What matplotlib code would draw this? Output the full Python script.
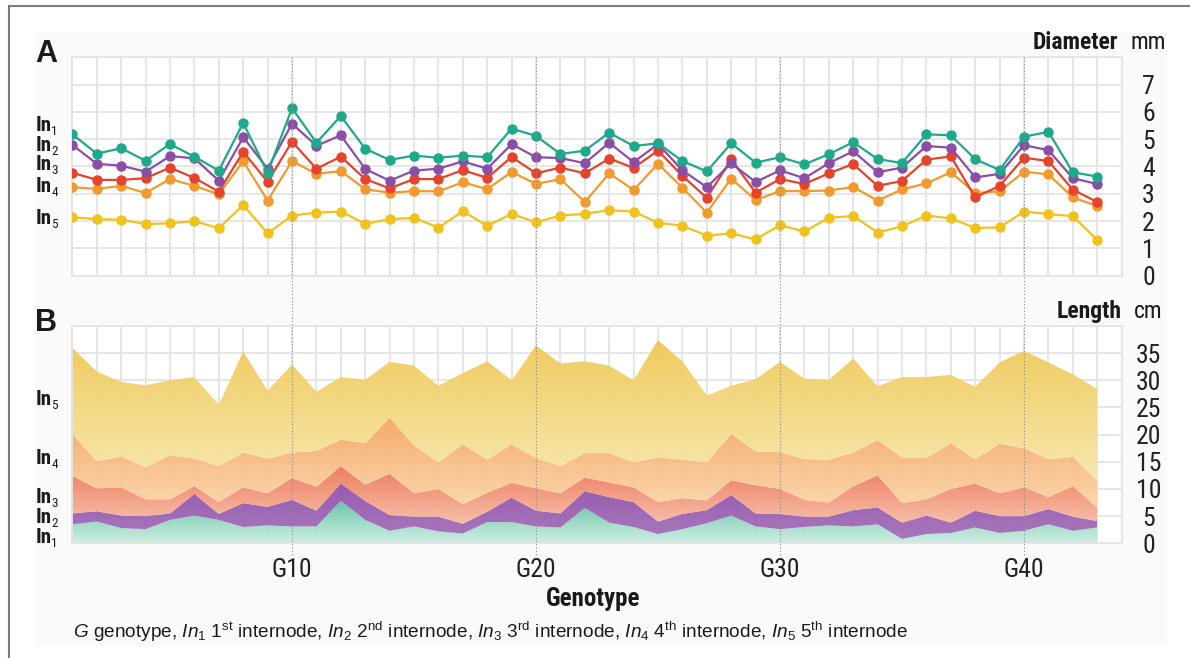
import os
import numpy as np
import matplotlib
matplotlib.use("Agg")
import matplotlib.pyplot as plt
from matplotlib import font_manager as fm
from matplotlib import transforms
from matplotlib.colors import LinearSegmentedColormap
from matplotlib.patches import Rectangle
from matplotlib.lines import Line2D

# ---------------------------------------------------------------- data
genotypes = np.arange(1, 44)
xtick_pos = [10, 20, 30, 40]
xtick_labels = ["G10", "G20", "G30", "G40"]

# internode diameter, mm
dia_in1 = [5.18, 4.47, 4.67, 4.21, 4.82, 4.36, 3.85, 5.60, 3.77, 6.14, 4.87, 5.85, 4.65, 4.24,
           4.40, 4.32, 4.40, 4.34, 5.39, 5.12, 4.46, 4.58, 5.24, 4.75, 4.85, 4.20, 3.82, 4.85, 4.14,
           4.34, 4.08, 4.45, 4.89, 4.27, 4.13, 5.18, 5.14, 4.27, 3.87, 5.09, 5.27, 3.79, 3.63]
dia_in2 = [4.79, 4.10, 4.03, 3.81, 4.38, 4.30, 3.48, 5.07, 3.92, 5.57, 4.76, 5.14, 3.91, 3.48,
           3.85, 3.92, 4.19, 3.92, 4.82, 4.34, 4.31, 4.12, 4.87, 4.16, 4.82, 3.86, 3.24, 4.12, 3.43,
           3.86, 3.57, 4.12, 4.56, 3.79, 3.96, 4.75, 4.69, 3.60, 3.73, 4.78, 4.60, 3.57, 3.36]
dia_in3 = [3.77, 3.51, 3.51, 3.57, 3.96, 3.58, 3.08, 4.54, 3.44, 4.91, 3.92, 4.36, 3.54, 3.20,
           3.54, 3.54, 3.87, 3.58, 4.35, 3.75, 3.96, 3.75, 4.29, 3.95, 4.58, 3.66, 2.85, 4.26, 3.04,
           3.54, 3.36, 3.75, 4.09, 3.29, 3.47, 4.25, 4.37, 2.87, 3.29, 4.32, 4.20, 3.15, 2.70]
dia_in4 = [3.24, 3.18, 3.29, 3.03, 3.54, 3.29, 2.98, 4.19, 2.75, 4.20, 3.73, 3.83, 3.17, 3.04,
           3.10, 3.09, 3.42, 3.17, 3.80, 3.36, 3.54, 2.70, 3.75, 3.14, 4.10, 3.22, 2.31, 3.56, 2.77,
           3.10, 3.10, 3.12, 3.25, 2.75, 3.16, 3.38, 3.79, 3.03, 3.09, 3.81, 3.71, 2.87, 2.55]
dia_in5 = [2.14, 2.07, 2.05, 1.89, 1.92, 2.00, 1.74, 2.59, 1.55, 2.20, 2.31, 2.35, 1.90, 2.07,
           2.12, 1.76, 2.36, 1.83, 2.26, 1.96, 2.20, 2.27, 2.40, 2.35, 1.94, 1.83, 1.47, 1.55, 1.33,
           1.85, 1.62, 2.12, 2.19, 1.58, 1.81, 2.20, 2.10, 1.75, 1.77, 2.35, 2.26, 2.18, 1.31]

# internode length, cm (stacked from In1 upward)
len_in1 = [3.5, 4.0, 2.8, 2.6, 4.3, 5.1, 4.3, 3.0, 3.3, 3.1, 3.1, 7.8, 4.3, 2.3,
           3.1, 2.2, 1.8, 3.9, 3.9, 3.1, 2.9, 6.5, 3.8, 3.0, 1.7, 2.6, 3.7, 5.1, 3.1,
           2.6, 3.0, 3.3, 3.1, 3.5, 0.8, 1.7, 1.9, 2.9, 1.9, 2.3, 3.5, 2.3, 2.9]
len_in2 = [2.0, 1.9, 2.3, 2.4, 1.2, 4.0, 1.1, 4.4, 3.4, 4.9, 2.9, 3.2, 3.5, 2.9,
           1.8, 2.7, 1.8, 1.9, 4.5, 2.9, 2.6, 3.1, 4.7, 4.6, 2.3, 2.8, 2.4, 3.8, 2.4,
           2.8, 1.9, 1.6, 3.0, 3.1, 3.0, 3.4, 1.9, 3.1, 3.1, 2.7, 2.8, 2.6, 1.2]
len_in3 = [6.9, 4.2, 5.2, 3.1, 2.6, 1.4, 2.2, 2.9, 2.5, 4.0, 4.4, 3.2, 3.0, 7.6,
           4.3, 5.1, 3.6, 3.5, 2.7, 4.1, 3.7, 2.5, 2.7, 2.7, 3.6, 2.9, 1.8, 2.7, 5.2,
           4.6, 3.1, 2.6, 4.4, 5.9, 3.6, 3.0, 6.2, 5.0, 4.2, 5.3, 2.2, 5.6, 2.5]
len_in4 = [7.7, 5.0, 5.7, 5.9, 8.1, 5.1, 6.6, 6.4, 6.4, 4.7, 6.6, 4.9, 7.6, 10.3,
           8.8, 4.9, 11.0, 6.1, 7.1, 5.6, 5.0, 4.5, 5.4, 4.6, 8.2, 7.1, 7.0, 8.5, 6.2,
           6.8, 7.5, 7.9, 6.2, 6.5, 8.4, 7.6, 8.4, 4.5, 9.1, 7.2, 7.0, 5.4, 4.9]
len_in5 = [15.9, 16.5, 13.7, 15.1, 13.8, 15.0, 11.3, 18.6, 12.5, 16.2, 10.9, 11.5, 11.7, 10.3,
           14.7, 14.1, 13.1, 18.1, 11.8, 20.7, 18.9, 16.9, 16.1, 15.1, 21.6, 18.1, 12.3, 8.9, 13.3,
           16.6, 14.8, 14.7, 17.3, 9.9, 14.8, 14.9, 12.6, 13.3, 15.0, 17.9, 17.8, 15.2, 16.9]

internode_names = ["1", "2", "3", "4", "5"]
line_colors = ["#1fa98b", "#8b4ea6", "#e6432c", "#f29a2e", "#f0c21e"]
# (bottom colour, top colour) of each stacked band
band_colors = [("#cdeee2", "#5fc2a3"),
               ("#a26fb8", "#9050aa"),
               ("#f7bba3", "#ee7656"),
               ("#fcd5a8", "#f4a562"),
               ("#f8e7ab", "#efc854")]

# ---------------------------------------------------------------- fonts
SANS = "Liberation Sans"
plt.rcParams["font.family"] = [SANS, "DejaVu Sans"]
plt.rcParams["mathtext.fontset"] = "custom"
plt.rcParams["mathtext.rm"] = SANS
plt.rcParams["mathtext.it"] = SANS + ":italic"


def _find_font(candidates):
    files = {}
    for f in fm.fontManager.ttflist:
        key = os.path.basename(f.fname).lower().replace("-", "").replace("_", "")
        files.setdefault(key, f.fname)
    for c in candidates:
        if c in files:
            return files[c]
    return None


_narrow_reg = _find_font(["liberationsansnarrowregular.ttf", "arialnarrow.ttf",
                          "robotocondensedregular.ttf", "notosanscondensed.ttf",
                          "notosanscondensedregular.ttf", "opensanscondensedregular.ttf",
                          "dejavusanscondensed.ttf"])
_narrow_bold = _find_font(["liberationsansnarrowbold.ttf", "arialnarrowbold.ttf",
                           "robotocondensedbold.ttf", "notosanscondensedbold.ttf",
                           "opensanscondensedbold.ttf", "dejavusanscondensedbold.ttf"])


def narrow(size, bold=False):
    path = _narrow_bold if bold else _narrow_reg
    if path:
        return fm.FontProperties(fname=path, size=size)
    return fm.FontProperties(family=SANS, size=size,
                             weight="bold" if bold else "normal", stretch="condensed")


# ---------------------------------------------------------------- figure
W, H = 1190, 658
fig = plt.figure(figsize=(W / 100, H / 100), dpi=100)
fig.patch.set_facecolor("white")


def fx(px):
    return px / W


def fy(py):
    return 1 - py / H


# soft panel background and frame
fig.add_artist(Rectangle((fx(35), fy(646)), (1167 - 35) / W, (646 - 32) / H,
                         transform=fig.transFigure, facecolor="#fafafa",
                         edgecolor="none", zorder=-10))
fig.add_artist(Line2D([fx(9), 1], [fy(6), fy(6)], transform=fig.transFigure,
                      color="#7d7d7d", lw=1.5))
fig.add_artist(Line2D([fx(9), fx(9)], [fy(6), 0], transform=fig.transFigure,
                      color="#7d7d7d", lw=1.5))

AX_L, AX_R = 72.4, 1121.6
axA = fig.add_axes([fx(AX_L), fy(275.7), (AX_R - AX_L) / W, (275.7 - 57.3) / H])
axB = fig.add_axes([fx(AX_L), fy(543.3), (AX_R - AX_L) / W, (543.3 - 326.0) / H])

GRID = "#e4e4e4"
for ax in (axA, axB):
    ax.set_facecolor("white")
    ax.set_xticks(range(1, 45), minor=True)
    ax.set_xticks(xtick_pos)
    ax.grid(True, which="both", axis="x", color=GRID, lw=1.3)
    ax.grid(True, which="major", axis="y", color=GRID, lw=1.3)
    ax.set_axisbelow(True)
    for s in ax.spines.values():
        s.set_color(GRID)
        s.set_linewidth(1.3)
    ax.tick_params(which="both", length=0)
    ax.yaxis.tick_right()
    ax.tick_params(axis="y", pad=19.4)

# ---- panel A: diameters
for vals, col in reversed(list(zip([dia_in1, dia_in2, dia_in3, dia_in4, dia_in5], line_colors))):
    axA.plot(genotypes, vals, color=col, lw=1.6, marker="o", ms=6.5,
             mfc=col, mec=col, zorder=3)
axA.set_xlim(1, 44)
axA.set_ylim(0, 8)
axA.set_yticks(range(0, 8))
axA.set_xticklabels([])

# ---- panel B: stacked lengths with vertical colour gradients
lengths = np.array([len_in1, len_in2, len_in3, len_in4, len_in5])
tops = np.cumsum(lengths, axis=0)
bottoms = np.vstack([np.zeros(len(genotypes)), tops[:-1]])
grad = np.linspace(0, 1, 256).reshape(-1, 1)
for i, (lo_c, hi_c) in enumerate(band_colors):
    lower, upper = bottoms[i], tops[i]
    poly = axB.fill_between(genotypes, lower, upper, facecolor="none",
                            edgecolor="none", zorder=2)
    cmap = LinearSegmentedColormap.from_list(f"band{i}", [lo_c, hi_c])
    im = axB.imshow(grad, cmap=cmap, aspect="auto", origin="lower",
                    extent=[genotypes[0], genotypes[-1], lower.min(), upper.max()],
                    interpolation="bilinear", alpha=0.94, zorder=2)
    im.set_clip_path(poly.get_paths()[0], transform=axB.transData)
axB.set_xlim(1, 44)
axB.set_ylim(0, 40)
axB.set_yticks(range(0, 40, 5))
axB.set_xticklabels(xtick_labels)
axB.tick_params(axis="x", pad=19)

for ax in (axA, axB):
    for lab in ax.get_yticklabels():
        lab.set_horizontalalignment("center")
        lab.set_fontproperties(narrow(18.5))
        lab.set_color("#222222")
    for lab in ax.get_xticklabels():
        lab.set_verticalalignment("center")
        lab.set_fontproperties(narrow(18.5))
        lab.set_color("#222222")

# dotted guides through both panels at every tenth genotype
guide_tr = transforms.blended_transform_factory(axA.transData, fig.transFigure)
for g in xtick_pos:
    fig.add_artist(Line2D([g, g], [fy(57.3), fy(556)], transform=guide_tr,
                          color="#8e8e8e", lw=0.8, ls=(0, (1, 2)), zorder=5))

# ---------------------------------------------------------------- labels
fig.text(fx(35), fy(62), "A", fontsize=22, fontweight="bold", va="baseline", color="#1a1a1a")
fig.text(fx(35), fy(330.7), "B", fontsize=22, fontweight="bold", va="baseline", color="#1a1a1a")

renderer = fig.canvas.get_renderer()
in_baselines_A = [131, 150.7, 170, 191.7, 224]
in_baselines_B = [543.3, 523.3, 503.3, 464, 405]
for name, ya, yb in zip(internode_names, in_baselines_A, in_baselines_B):
    for yb_px in (ya, yb):
        t = fig.text(fx(36), fy(yb_px), "In", fontproperties=narrow(15, bold=True),
                     va="baseline", color="#1a1a1a")
        bb = t.get_window_extent(renderer=renderer)
        fig.text((bb.x1 - 0.5) / W, fy(yb_px + 4), name, fontproperties=narrow(9.5),
                 va="baseline", color="#1a1a1a")

fig.text(fx(1118), fy(49), "Diameter", fontproperties=narrow(17, bold=True),
         ha="right", va="baseline", color="#1a1a1a")
fig.text(fx(1131), fy(49), "mm", fontproperties=narrow(17), ha="left", va="baseline",
         color="#1a1a1a")
fig.text(fx(1122), fy(318.3), "Length", fontproperties=narrow(17, bold=True),
         ha="right", va="baseline", color="#1a1a1a")
fig.text(fx(1134), fy(318.3), "cm", fontproperties=narrow(17), ha="left", va="baseline",
         color="#1a1a1a")

fig.text(fx(593), fy(599), "Genotype", fontproperties=narrow(18, bold=True),
         ha="center", va="center", color="#1a1a1a")

caption = (r"$\mathit{G}$ genotype, $\mathit{In}_{\mathit{1}}$ $1^{\mathrm{st}}$ internode, "
           r"$\mathit{In}_{\mathit{2}}$ $2^{\mathrm{nd}}$ internode, "
           r"$\mathit{In}_{\mathit{3}}$ $3^{\mathrm{rd}}$ internode, "
           r"$\mathit{In}_{\mathit{4}}$ $4^{\mathrm{th}}$ internode, "
           r"$\mathit{In}_{\mathit{5}}$ $5^{\mathrm{th}}$ internode")
fig.text(fx(73), fy(637.7), caption, fontsize=13.7, ha="left", va="baseline",
         color="#1a1a1a")

fig.savefig("out.png", dpi=100)
